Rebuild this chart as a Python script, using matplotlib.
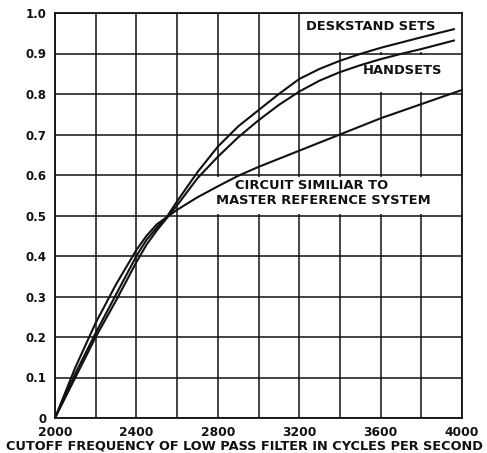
import matplotlib
matplotlib.use("Agg")
import matplotlib.pyplot as plt
from matplotlib.patches import Rectangle

# ---- data ----
desk_f = [2000, 2100, 2200, 2300, 2400, 2450, 2500, 2550, 2600, 2700, 2800, 2900, 3000, 3100, 3200, 3300, 3400, 3500, 3600, 3700, 3800, 3960]
desk_v = [0.0, 0.11, 0.21, 0.305, 0.40, 0.44, 0.47, 0.497, 0.535, 0.607, 0.67, 0.72, 0.76, 0.80, 0.837, 0.862, 0.882, 0.899, 0.914, 0.927, 0.94, 0.96]

hand_f = [2000, 2100, 2200, 2300, 2400, 2450, 2500, 2550, 2600, 2700, 2800, 2900, 3000, 3100, 3200, 3300, 3400, 3500, 3600, 3700, 3800, 3960]
hand_v = [0.0, 0.10, 0.20, 0.29, 0.385, 0.428, 0.463, 0.494, 0.525, 0.592, 0.645, 0.693, 0.735, 0.773, 0.806, 0.833, 0.854, 0.871, 0.886, 0.899, 0.911, 0.932]

ref_f = [2000, 2100, 2200, 2300, 2400, 2450, 2500, 2550, 2600, 2700, 2800, 2900, 3000, 3200, 3400, 3600, 3800, 4000]
ref_v = [0.0, 0.125, 0.235, 0.33, 0.415, 0.45, 0.478, 0.496, 0.514, 0.545, 0.572, 0.598, 0.62, 0.66, 0.70, 0.74, 0.775, 0.81]

x_ticks = [2000, 2400, 2800, 3200, 3600, 4000]
x_minor = [2200, 2600, 3000, 3400, 3800]
y_ticks = [0, 0.1, 0.2, 0.3, 0.4, 0.5, 0.6, 0.7, 0.8, 0.9, 1.0]
y_labels = ["0", "0.1", "0.2", "0.3", "0.4", "0.5", "0.6", "0.7", "0.8", "0.9", "1.0"]

x_title = "CUTOFF FREQUENCY OF LOW PASS FILTER IN CYCLES PER SECOND"
lbl_desk = "DESKSTAND SETS"
lbl_hand = "HANDSETS"
lbl_ref1 = "CIRCUIT SIMILIAR TO"
lbl_ref2 = "MASTER REFERENCE SYSTEM"

# ---- figure ----
plt.rcParams['font.family'] = ['DejaVu Sans']
fig = plt.figure(figsize=(4.87, 4.53), dpi=100)
ax = fig.add_axes([55/487, 1-418/453, (462-55)/487, (418-13)/453])

ink = "#111111"
ax.set_xlim(2000, 4000)
ax.set_ylim(0, 1.0)
ax.set_xticks(x_ticks)
ax.set_xticks(x_minor, minor=True)
ax.set_xticklabels([str(t) for t in x_ticks], fontsize=8.8, fontweight='bold', color=ink)
ax.set_yticks(y_ticks)
ax.set_yticklabels(y_labels, fontsize=8.5, fontweight='bold', color=ink)
ax.tick_params(axis='both', which='both', length=0)
ax.tick_params(axis='x', pad=5.5)
ax.tick_params(axis='y', pad=6)
ax.grid(True, which='both', color=ink, linewidth=1.1, zorder=0.5)
ax.set_axisbelow(True)
for s in ax.spines.values():
    s.set_linewidth(1.3)
    s.set_color(ink)

# white label boxes that interrupt the grid
ax.add_patch(Rectangle((3212, 0.904), 4000-3212, 0.096, facecolor='white', edgecolor='none', zorder=1))
ax.add_patch(Rectangle((3412, 0.804), 4000-3412, 0.092, facecolor='white', edgecolor='none', zorder=1))
ax.add_patch(Rectangle((2700, 0.504), 4000-2700, 0.092, facecolor='white', edgecolor='none', zorder=1))

lw = 1.5
ax.plot(desk_f, desk_v, color=ink, lw=lw, zorder=3)
ax.plot(hand_f, hand_v, color=ink, lw=lw, zorder=3)
ax.plot(ref_f, ref_v, color=ink, lw=lw, zorder=3)

tkw = dict(fontsize=9.4, fontweight='bold', color=ink, ha='center', va='center', zorder=4)
ax.text(3550, 0.966, lbl_desk, **tkw)
ax.text(3710, 0.859, lbl_hand, **tkw)
ax.text(3260, 0.574, lbl_ref1, **tkw)
ax.text(3317, 0.538, lbl_ref2, **tkw)

fig.text(244.5/487, 1-446/453, x_title, fontsize=9.3, fontweight='bold', color=ink,
         ha='center', va='center')

fig.savefig("out.png", dpi=100, facecolor='white')
